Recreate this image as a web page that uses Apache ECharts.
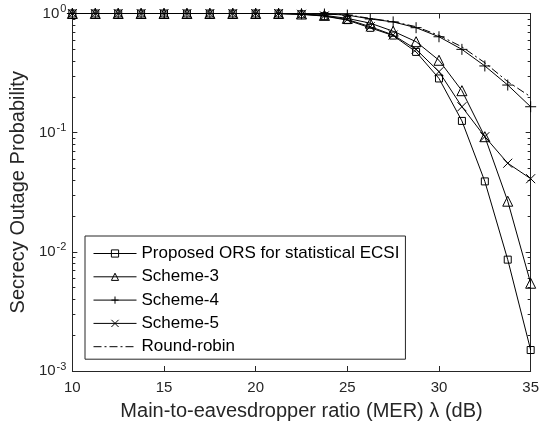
<!DOCTYPE html>
<html>
<head>
<meta charset="utf-8">
<script src="https://cdn.jsdelivr.net/npm/echarts@6/dist/echarts.min.js"></script>
<style>
    html, body { margin: 0; padding: 0; background: #fff; }
    #chart { width: 542px; height: 429px; }
</style>
</head>
<body>
<div id="chart"></div>
<script>
// MER в дБ
const merValues = [10, 11.25, 12.5, 13.75, 15, 16.25, 17.5, 18.75, 20, 21.25,
    22.5, 23.75, 25, 26.25, 27.5, 28.75, 30, 31.25, 32.5, 33.75, 35];

const proposedOrs = [1, 1, 1, 1, 1, 1, 1, 1, 1, 1,
    0.985, 0.95, 0.88, 0.758, 0.653, 0.476, 0.285, 0.1255, 0.039, 0.0086, 0.0015];
const scheme3 = [1, 1, 1, 1, 1, 1, 1, 1, 1, 1,
    0.99, 0.965, 0.91, 0.83, 0.71, 0.58, 0.405, 0.225, 0.0925, 0.0266, 0.00545];
const scheme4 = [1, 1, 1, 1, 1, 1, 1, 1, 1, 1,
    0.995, 0.99, 0.97, 0.90, 0.85, 0.76, 0.638, 0.50, 0.363, 0.251, 0.165];
const scheme5 = [1, 1, 1, 1, 1, 1, 1, 1, 1, 1,
    0.985, 0.955, 0.89, 0.775, 0.66, 0.50, 0.325, 0.165, 0.0925, 0.0554, 0.0411];
const roundRobin = [1, 1, 1, 1, 1, 1, 1, 1, 1, 1,
    0.995, 0.99, 0.975, 0.91, 0.855, 0.775, 0.655, 0.525, 0.386, 0.268, 0.20];

const seriesNames = ['Proposed ORS for statistical ECSI', 'Scheme-3', 'Scheme-4', 'Scheme-5', 'Round-robin'];

// Мелкие засечки лог-оси: log10(k * 10^n)
const minorTickValues = [];
for (let n = -3; n < 0; n++) {
    for (let k = 2; k <= 9; k++) {
        minorTickValues.push(Math.log10(k) + n);
    }
}
const majorTickValues = [-3, -2, -1, 0];

const axisColor = '#262626';
const fontFamily = 'Liberation Sans, Arial, sans-serif';

// маркеры как в MATLAB: только контур
const squarePath = 'path://M0,0L10,0L10,10L0,10Z';
const trianglePath = 'path://M5,0L10,9L0,9Z';
const plusPath = 'path://M5,0L5,10M0,5L10,5';
const crossPath = 'path://M0,0L10,10M10,0L0,10';

function pairs(values) {
    return merValues.map(function (x, i) {
        return [x, values[i]];
    });
}

function makeSeries(name, values, symbol, symbolSize, dashType) {
    return {
        name: name,
        type: 'line',
        data: pairs(values),
        symbol: symbol,
        symbolSize: symbolSize,
        showSymbol: symbol !== 'none',
        xAxisIndex: 0,
        yAxisIndex: 0,
        lineStyle: { color: '#000', width: 1, type: dashType || 'solid' },
        itemStyle: { color: 'rgba(0,0,0,0)', borderColor: '#000', borderWidth: 1 },
        emphasis: { disabled: true },
        animation: false
    };
}

// ось без подписей, только засечки внутрь (для рамки как в MATLAB)
function tickOnlyYAxis(position, values, length) {
    return {
        type: 'value',
        position: position,
        min: -3,
        max: 0,
        axisLine: { show: true, lineStyle: { color: axisColor, width: 1 } },
        axisTick: { show: true, inside: true, length: length, customValues: values, lineStyle: { color: axisColor } },
        axisLabel: { show: false },
        splitLine: { show: false }
    };
}

const chart = echarts.init(document.getElementById('chart'), null, { renderer: 'canvas' });

chart.setOption({
    backgroundColor: '#fff',
    animation: false,
    textStyle: { fontFamily: fontFamily },
    grid: { left: 72, right: 9, top: 13.5, bottom: 58, containLabel: false },
    legend: {
        orient: 'vertical',
        left: 85,
        top: 236,
        data: seriesNames.map(function (name, i) {
            return i === 4 ? { name: name, itemStyle: { opacity: 0 } } : { name: name };
        }),
        backgroundColor: '#fff',
        borderColor: axisColor,
        borderWidth: 1,
        borderRadius: 0,
        padding: [9, 6, 4, 8],
        itemWidth: 43,
        itemHeight: 9,
        itemGap: 6.3,
        lineStyle: { width: 1 },
        itemStyle: { borderWidth: 1 },
        textStyle: { color: '#000', fontSize: 17, lineHeight: 17, fontFamily: fontFamily },
        selectedMode: false
    },
    xAxis: [
        {
            type: 'value',
            position: 'bottom',
            min: 10,
            max: 35,
            interval: 5,
            axisLine: { show: true, onZero: false, lineStyle: { color: axisColor, width: 1 } },
            axisTick: { show: true, inside: true, length: 5, lineStyle: { color: axisColor } },
            axisLabel: { color: axisColor, fontSize: 15, margin: 9, fontFamily: fontFamily },
            splitLine: { show: false },
            name: 'Main-to-eavesdropper ratio (MER) \u03bb (dB)',
            nameLocation: 'middle',
            nameGap: 30,
            nameTextStyle: { color: axisColor, fontSize: 20, fontFamily: fontFamily }
        },
        {
            type: 'value',
            position: 'top',
            min: 10,
            max: 35,
            interval: 5,
            axisLine: { show: true, onZero: false, lineStyle: { color: axisColor, width: 1 } },
            axisTick: { show: true, inside: true, length: 5, lineStyle: { color: axisColor } },
            axisLabel: { show: false },
            splitLine: { show: false }
        }
    ],
    yAxis: [
        {
            type: 'log',
            logBase: 10,
            position: 'left',
            min: 0.001,
            max: 1,
            axisLine: { show: true, onZero: false, lineStyle: { color: axisColor, width: 1 } },
            axisTick: { show: true, inside: true, length: 5, lineStyle: { color: axisColor } },
            axisLabel: {
                color: axisColor,
                fontSize: 15,
                margin: 6,
                fontFamily: fontFamily,
                formatter: function (value) {
                    const exponent = Math.round(Math.log10(value));
                    return '10{sup|' + exponent + '}';
                },
                rich: {
                    sup: { fontSize: 11, verticalAlign: 'top', padding: [0, 0, 9, 1], color: axisColor, fontFamily: fontFamily }
                }
            },
            splitLine: { show: false },
            name: 'Secrecy Outage Probability',
            nameLocation: 'middle',
            nameGap: 44,
            nameTextStyle: { color: axisColor, fontSize: 20, fontFamily: fontFamily }
        },
        tickOnlyYAxis('left', minorTickValues, 3),
        tickOnlyYAxis('right', minorTickValues, 3),
        tickOnlyYAxis('right', majorTickValues, 5)
    ],
    series: [
        makeSeries(seriesNames[0], proposedOrs, squarePath, 7),
        makeSeries(seriesNames[1], scheme3, trianglePath, 10),
        makeSeries(seriesNames[2], scheme4, plusPath, 11),
        makeSeries(seriesNames[3], scheme5, crossPath, 9),
        makeSeries(seriesNames[4], roundRobin, 'none', 0, [8, 3, 2, 3])
    ]
});
</script>
</body>
</html>
